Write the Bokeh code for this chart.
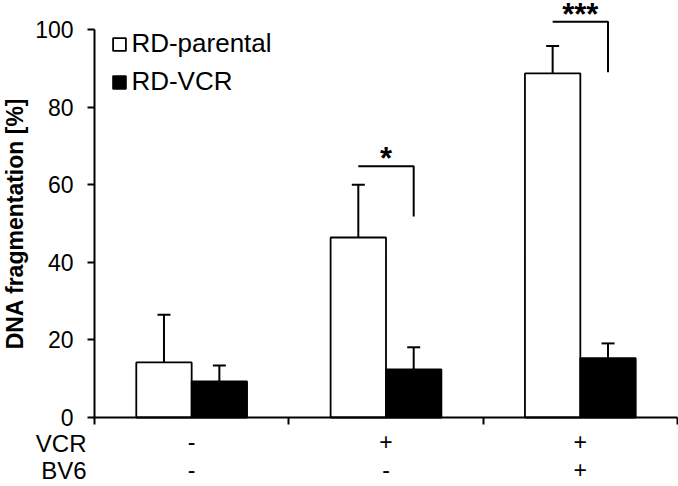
from bokeh.plotting import figure
from bokeh.models import (ColumnDataSource, Range1d, FixedTicker, Whisker, TeeHead,
                          Legend, LegendItem)
from bokeh.embed import file_html
from bokeh.resources import INLINE
from bokeh.core.properties import value

# Treatment table shown under the bars (one entry per condition)
vcr_row = ["-", "+", "+"]
bv6_row = ["-", "-", "+"]
row_names = ["VCR", "BV6"]

# DNA fragmentation [%], mean and SD
parental_mean = [14.2, 46.4, 88.7]
parental_err = [12.3, 13.6, 7.1]
vcr_mean = [9.3, 12.4, 15.3]
vcr_err = [4.1, 5.7, 3.8]

# Significance markers between the two cell lines
significance = ["", "*", "***"]
bracket_level = [None, 64.8, 102.0]
bracket_drop = 13.0

y_ticks = [0, 20, 40, 60, 80, 100]

FONT = "Liberation Sans"
BAR_W = 0.285
W, H = 678, 486
LEFT, BOTTOM = 94, 69          # room for the axes, in pixels
PX_X = (W - 1 - LEFT) / 3.0    # pixels per condition
PX_Y = (H - BOTTOM) / 107.5    # pixels per percent

n = len(vcr_row)
centers = [i + 0.5 for i in range(n)]
x_par = [c - BAR_W / 2 for c in centers]
x_vcr = [c + BAR_W / 2 for c in centers]

# the plot frame spans the whole canvas; axes are pinned at x=0 / y=0
p = figure(width=W, height=H, output_backend="svg", toolbar_location=None,
           x_range=Range1d(-LEFT / PX_X, n + 1 / PX_X),
           y_range=Range1d(-BOTTOM / PX_Y, 107.5),
           min_border_left=0, min_border_right=0, min_border_top=0,
           min_border_bottom=0)
p.outline_line_color = None
p.grid.visible = False
p.background_fill_color = "white"
p.border_fill_color = "white"

par_src = ColumnDataSource(dict(x=x_par, top=parental_mean,
                                upper=[m + e for m, e in zip(parental_mean, parental_err)]))
vcr_src = ColumnDataSource(dict(x=x_vcr, top=vcr_mean,
                                upper=[m + e for m, e in zip(vcr_mean, vcr_err)]))

r_par = p.vbar(x="x", top="top", bottom=0, width=BAR_W, source=par_src,
               fill_color="white", line_color="black", line_width=1.8)
r_vcr = p.vbar(x="x", top="top", bottom=0, width=BAR_W, source=vcr_src,
               fill_color="black", line_color="black", line_width=1.8)

# upward-only error bars
for src in (par_src, vcr_src):
    w = Whisker(base="x", lower="top", upper="upper", source=src,
                lower_head=None,
                upper_head=TeeHead(size=13, line_width=2, line_color="black"),
                line_width=2, line_color="black")
    p.add_layout(w)

# significance brackets
bx, by, sx, sy, st = [], [], [], [], []
for i, lvl in enumerate(bracket_level):
    if lvl is None:
        continue
    bx.append([x_par[i], x_vcr[i], x_vcr[i]])
    by.append([lvl, lvl, lvl - bracket_drop])
    sx.append(centers[i])
    sy.append(lvl + 1.9)
    st.append(significance[i])
p.multi_line(xs=bx, ys=by, line_color="black", line_width=2)
p.text(x=sx, y=sy, text=st, text_align="center", text_baseline="alphabetic",
       text_font=value(FONT), text_font_size="31px", text_font_style="bold",
       text_color="black")

# y axis
ya = p.yaxis[0]
ya.fixed_location = 0
ya.ticker = FixedTicker(ticks=y_ticks)
ya.bounds = (0, 100)
ya.axis_label = "DNA fragmentation [%]"
ya.axis_label_text_font = FONT
ya.axis_label_text_font_size = "23px"
ya.axis_label_text_font_style = "bold"
ya.axis_label_text_color = "black"
ya.axis_label_standoff = 4
ya.major_label_text_font = FONT
ya.major_label_text_font_size = "23px"
ya.major_label_text_color = "black"
ya.major_label_standoff = 14
ya.major_tick_out = 7
ya.major_tick_in = 0
ya.minor_tick_line_color = None
ya.axis_line_width = 2
ya.major_tick_line_width = 2
ya.axis_line_color = "black"
ya.major_tick_line_color = "black"

# x axis: boundary ticks as minor ticks, treatment table as labels
xa = p.xaxis[0]
xa.fixed_location = 0
xa.bounds = (0, n)
xa.ticker = FixedTicker(ticks=centers, minor_ticks=list(range(n + 1)))
xa.major_label_overrides = {c: f"{a}\n{b}" for c, a, b in zip(centers, vcr_row, bv6_row)}
xa.major_tick_line_color = None
xa.major_tick_out = 0
xa.major_tick_in = 0
xa.minor_tick_out = 7
xa.minor_tick_in = 0
xa.minor_tick_line_width = 2
xa.minor_tick_line_color = "black"
xa.axis_line_width = 2
xa.axis_line_color = "black"
xa.major_label_text_font = FONT
xa.major_label_text_font_size = "23px"
xa.major_label_text_color = "black"
xa.major_label_text_line_height = 1.1
xa.major_label_standoff = 4

# row names of the treatment table, left of the first condition
p.text(x=[-8 / PX_X] * len(row_names), y=[-25.5 / PX_Y, -53 / PX_Y], text=row_names,
       text_align="right", text_baseline="middle", text_font=value(FONT),
       text_font_size="24px", text_color="black")

# legend
legend = Legend(items=[LegendItem(label="RD-parental", renderers=[r_par]),
                       LegendItem(label="RD-VCR", renderers=[r_vcr])],
                location=(LEFT + 17.4, 320 + BOTTOM), padding=0, margin=0, spacing=7,
                glyph_width=16, glyph_height=16, label_height=16,
                label_standoff=4, label_text_font=FONT,
                label_text_font_size="26px", label_text_color="black",
                border_line_color=None, background_fill_alpha=0)
p.add_layout(legend)

open("out.html", "w").write(file_html(p, INLINE))
